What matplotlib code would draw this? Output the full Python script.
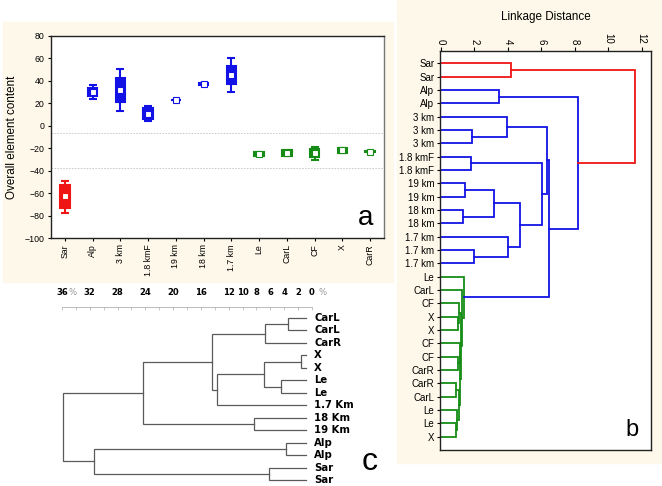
import matplotlib
matplotlib.use('Agg')
import matplotlib.pyplot as plt
from matplotlib.patches import Rectangle

# ---------------- data ----------------
# panel a: overall element content per site (mean, box, whiskers)
a_cats = ['Sar', 'Alp', '3 km', '1.8 kmF', '19 km', '18 km', '1.7 km',
          'Le', 'CarL', 'CF', 'X', 'CarR']
a_cluster = ['r', 'b', 'b', 'b', 'b', 'b', 'b', 'g', 'g', 'g', 'g', 'g']
a_mean = [-63, 30, 32, 10.5, 23, 37, 45, -25, -24.5, -24.5, -21.5, -23]
a_box_lo = [-73.5, 26.5, 21.5, 6, 22.6, 36.2, 37, -27, -27, -28, -24, -23.3]
a_box_hi = [-52.5, 33.5, 42.5, 15.5, 23.4, 37.8, 53.5, -23, -22, -20.5, -19.5, -22.7]
a_wh_lo = [-78, 24, 13.5, 4, 22.6, 36.2, 30.5, -27, -27, -30.5, -24, -23.3]
a_wh_hi = [-49, 36, 50.5, 17.5, 23.4, 37.8, 60, -23, -22, -18.5, -19.5, -22.7]
a_dash = [-6.7, -38]

# panel b: linkage tree (leaves 0..28, new nodes numbered from 29)
b_leaves = ['Sar', 'Sar', 'Alp', 'Alp', '3 km', '3 km', '3 km', '1.8 kmF', '1.8 kmF',
            '19 km', '19 km', '18 km', '18 km', '1.7 km', '1.7 km', '1.7 km',
            'Le', 'CarL', 'CF', 'X', 'X', 'CF', 'CF', 'CarR', 'CarR', 'CarL',
            'Le', 'Le', 'X']
b_left = [0, 2, 5, 4, 7, 9, 11, 34, 14, 13, 36, 33, 32,
          19, 18, 22, 21, 24, 27, 26, 46, 45, 43, 17, 16,
          41, 30, 29]
b_right = [1, 3, 6, 31, 8, 10, 12, 35, 15, 37, 38, 39, 40,
           20, 42, 23, 44, 25, 28, 47, 48, 49, 50, 51, 52,
           53, 54, 55]
b_height = [4.17, 3.5, 1.87, 3.95, 1.8, 1.45, 1.3, 3.17, 1.99, 4.0, 4.72, 6.06, 6.34,
            1.02, 1.08, 1.0, 1.12, 0.9, 0.93, 0.97, 1.06, 1.16, 1.19, 1.24, 1.38,
            6.44, 8.19, 11.6]
b_cluster = ['r', 'b', 'b', 'b', 'b', 'b', 'b', 'b', 'b', 'b', 'b', 'b', 'b',
             'g', 'g', 'g', 'g', 'g', 'g', 'g', 'g', 'g', 'g', 'g', 'g',
             'b', 'b', 'r']
b_ticks = [0, 2, 4, 6, 8, 10, 12]

# panel c: percent dissimilarity tree (leaves 0..13, new nodes from 14)
c_leaves = ['CarL', 'CarL', 'CarR', 'X', 'X', 'Le', 'Le', '1.7 Km',
            '18 Km', '19 Km', 'Alp', 'Alp', 'Sar', 'Sar']
c_left = [0, 14, 3, 5, 16, 18, 15, 8, 20, 10, 12, 23, 22]
c_right = [1, 2, 4, 6, 17, 7, 19, 9, 21, 11, 13, 24, 25]
c_height = [3.5, 6.7, 1.6, 4.5, 6.9, 13.7, 14.4, 8.4, 24.4, 3.7, 6.2, 31.4, 35.9]
c_ticks = [36, 32, 28, 24, 20, 16, 12, 10, 8, 6, 4, 2, 0]

colors = {'r': '#f01515', 'b': '#1212e6', 'g': '#168c16'}
cream = '#fdf8ea'


def draw_tree(ax, left, right, height, n, color_of, leaf_h=0.0, lw=1.0):
    """画树状图：x 为距离，y 为叶子序号"""
    pos = list(range(n))
    hts = [leaf_h] * n
    for k, (l, r, h) in enumerate(zip(left, right, height)):
        ax.plot([hts[l], h, h, hts[r]], [pos[l], pos[l], pos[r], pos[r]],
                color=color_of(k), lw=lw, solid_joinstyle='miter')
        pos.append((pos[l] + pos[r]) / 2)
        hts.append(h)


fig = plt.figure(figsize=(6.62, 4.86), dpi=100)
W, H = 662, 486


def frac(x0, y0, x1, y1):
    """像素坐标 -> figure 坐标 [left, bottom, width, height]"""
    return [x0 / W, 1 - y1 / H, (x1 - x0) / W, (y1 - y0) / H]


# 背景色块
fig.patches.append(Rectangle((3 / W, 1 - 282 / H), 390 / W, 260 / H,
                             transform=fig.transFigure, color=cream, zorder=-5))
fig.patches.append(Rectangle((397 / W, 1 - 463 / H), 265 / W, 463 / H,
                             transform=fig.transFigure, color=cream, zorder=-5))

# ---------------- panel a ----------------
ax = fig.add_axes(frac(51, 36, 384, 238))
ax.set_facecolor('white')
for i, cat in enumerate(a_cats):
    c = colors[a_cluster[i]]
    m = a_mean[i]
    ax.errorbar(i, m, yerr=[[m - a_wh_lo[i]], [a_wh_hi[i] - m]], fmt='none',
                ecolor=c, elinewidth=1.5, capsize=2.6, capthick=1.5, zorder=2)
    ax.bar(i, a_box_hi[i] - a_box_lo[i], bottom=a_box_lo[i], width=0.34,
           color=c, edgecolor=c, linewidth=1.5, zorder=3)
    ax.plot(i, m, 's', mfc='white', mec=c, ms=3.8, mew=0.8, zorder=4)
for d in a_dash:
    ax.axhline(d, color='#c4c4c4', lw=0.6, ls=(0, (2, 1.5)), zorder=1)
ax.set_xlim(-0.5, len(a_cats) - 0.5)
ax.set_ylim(-100, 80)
ax.set_yticks(range(-100, 81, 20))
ax.set_xticks(range(len(a_cats)))
ax.set_xticklabels(a_cats, rotation=90, family='Liberation Sans', fontsize=6.3)
for t in ax.get_yticklabels():
    t.set_family('Liberation Sans')
    t.set_fontsize(6.3)
ax.tick_params(length=2.5, width=0.8, pad=2)
ax.set_ylabel('Overall element content', family='Liberation Sans', fontsize=8.4, labelpad=5)
for s in ax.spines.values():
    s.set_color('#222222')
    s.set_linewidth(1.0)
ax.spines['right'].set_color('#777777')
ax.text(0.945, 0.1, 'a', transform=ax.transAxes, family='Liberation Sans',
        fontsize=20, ha='center', va='center')

# ---------------- panel b ----------------
bx = fig.add_axes(frac(440, 51, 651, 450))
bx.set_facecolor('white')
draw_tree(bx, b_left, b_right, b_height, len(b_leaves),
          lambda k: colors[b_cluster[k]], lw=1.3)
bx.set_xlim(-0.05, 12.55)
bx.set_ylim(29.0, -0.92)
bx.set_yticks(range(len(b_leaves)))
bx.set_yticklabels(b_leaves, family='Liberation Sans', fontsize=7)
bx.set_xticks(b_ticks)
bx.set_xticklabels([str(t) for t in b_ticks], rotation=270,
                   family='Liberation Sans', fontsize=7)
bx.xaxis.tick_top()
bx.tick_params(axis='x', length=3, width=0.8, pad=2)
bx.tick_params(axis='y', length=2, width=0.8, pad=2)
bx.set_title('Linkage Distance', family='Liberation Sans', fontsize=8.4, pad=22)
for s in bx.spines.values():
    s.set_color('#222222')
    s.set_linewidth(1.0)
bx.text(0.91, 0.05, 'b', transform=bx.transAxes, family='Liberation Sans',
        fontsize=17, ha='center', va='center')

# ---------------- panel c ----------------
cx = fig.add_axes(frac(62, 307, 312, 486))
cx.patch.set_alpha(0)
draw_tree(cx, c_left, c_right, c_height, len(c_leaves),
          lambda k: '#5a5a5a', leaf_h=0.9, lw=0.9)
cx.set_xlim(36, 0)
cx.set_ylim(13.48, -0.88)
for i, name in enumerate(c_leaves):
    cx.text(-0.3, i, name, family='DejaVu Sans', fontweight='bold', fontsize=7.3,
            ha='left', va='center', clip_on=False)
for s in ['left', 'right', 'bottom']:
    cx.spines[s].set_visible(False)
cx.spines['top'].set_color('#b0b0b0')
cx.spines['top'].set_linewidth(0.6)
cx.set_yticks([])
cx.xaxis.tick_top()
cx.set_xticks(c_ticks)
cx.set_xticks(range(34, 13, -4), minor=True)
cx.set_xticklabels([str(t) for t in c_ticks], family='DejaVu Sans',
                   fontweight='bold', fontsize=6.1)
cx.tick_params(axis='x', which='both', direction='in', length=2, width=0.5,
               color='#b0b0b0', pad=7)
for v in (36, 0):
    cx.annotate('%', xy=(v, 1), xycoords=('data', 'axes fraction'),
                xytext=(4.8, 10.5), textcoords='offset points', color='#999999',
                family='DejaVu Sans', fontsize=6.1, ha='left', va='center')
fig.text(370 / W, 1 - 462 / H, 'c', family='Liberation Sans', fontsize=23,
         ha='center', va='center')

fig.savefig('out.png', dpi=100)
